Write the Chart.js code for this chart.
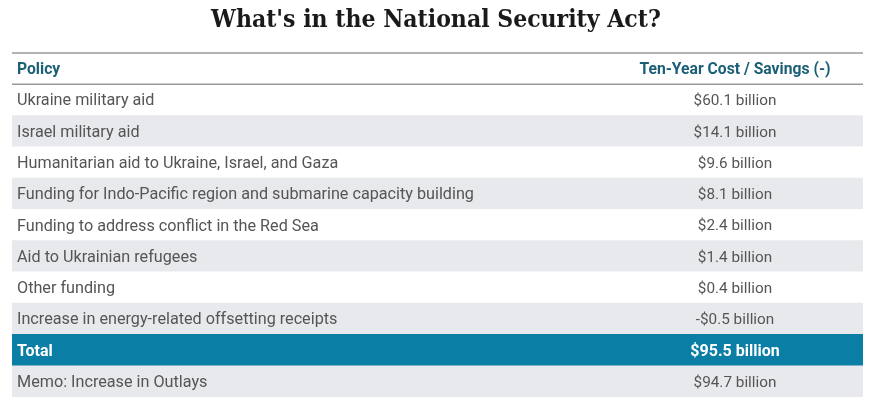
<!DOCTYPE html>
<html>
<head>
<meta charset="utf-8">
<script src="https://cdn.jsdelivr.net/npm/chart.js@4"></script>
<style>
  html, body { margin: 0; padding: 0; background: #fff; }
  #wrap { width: 876px; height: 404px; position: relative; }
</style>
</head>
<body>
<div id="wrap"><canvas id="myChart"></canvas></div>
<script>
const title = "What's in the National Security Act?";
const headers = ['Policy', 'Ten-Year Cost / Savings (-)'];
const policies = [
    'Ukraine military aid',
    'Israel military aid',
    'Humanitarian aid to Ukraine, Israel, and Gaza',
    'Funding for Indo-Pacific region and submarine capacity building',
    'Funding to address conflict in the Red Sea',
    'Aid to Ukrainian refugees',
    'Other funding',
    'Increase in energy-related offsetting receipts',
    'Total',
    'Memo: Increase in Outlays',
];
const costs = [60.1, 14.1, 9.6, 8.1, 2.4, 1.4, 0.4, -0.5, 95.5, 94.7];

const rowLabels = [headers[0]].concat(policies);
const teal = '#0b7ea6';
const stripe = '#e8e9ec';

function money(v){
    return (v < 0 ? '-$' : '$') + Math.abs(v).toFixed(1) + ' billion';
}

// row background: header white, then alternating, total row teal
const rowColors = rowLabels.map((name, i) => {
    if (name === 'Total') return teal;
    if (i === 0) return '#ffffff';
    return i % 2 === 0 ? stripe : '#ffffff';
});

const tablePlugin = {
    id: 'tableText',
    afterDatasetsDraw(chart){
        const ctx = chart.ctx;
        const yScale = chart.scales.y;
        const area = chart.chartArea;
        const valueX = 735;
        ctx.save();
        // title
        ctx.fillStyle = '#1a1a1a';
        ctx.font = 'bold 24.5px "DejaVu Serif Condensed", "DejaVu Serif", serif';
        ctx.textAlign = 'center';
        ctx.textBaseline = 'middle';
        ctx.fillText(title, 436, 21);

        // rules above and below header
        const half = (yScale.getPixelForValue(1) - yScale.getPixelForValue(0)) / 2;
        const headTop = yScale.getPixelForValue(0) - half;
        const headBottom = yScale.getPixelForValue(0) + half;
        ctx.strokeStyle = '#9a9a9a';
        ctx.lineWidth = 1.5;
        ctx.beginPath();
        ctx.moveTo(area.left, headTop);
        ctx.lineTo(area.right, headTop);
        ctx.moveTo(area.left, headBottom);
        ctx.lineTo(area.right, headBottom);
        ctx.stroke();

        rowLabels.forEach((name, i) => {
            const y = yScale.getPixelForValue(i) + 1.5;
            let left = name, right, leftFont, rightFont;
            if (i === 0) {
                right = headers[1];
                ctx.fillStyle = '#1b5f77';
                leftFont = rightFont = 'bold 15.7px Roboto, sans-serif';
            } else if (name === 'Total') {
                right = money(costs[i - 1]);
                ctx.fillStyle = '#ffffff';
                leftFont = rightFont = 'bold 16px Roboto, sans-serif';
            } else {
                right = money(costs[i - 1]);
                ctx.fillStyle = '#555555';
                leftFont = '16.2px Roboto, sans-serif';
                rightFont = '15.3px Roboto, sans-serif';
            }
            ctx.textAlign = 'left';
            ctx.font = leftFont;
            ctx.fillText(left, area.left + 5, y);
            ctx.textAlign = 'center';
            ctx.font = rightFont;
            ctx.fillText(right, valueX, y);
        });
        ctx.restore();
    }
};

const ctx = document.getElementById('myChart').getContext('2d');
new Chart(ctx, {
    type: 'bar',
    data: {
        labels: rowLabels,
        datasets: [{
            data: rowLabels.map(() => 1),
            backgroundColor: rowColors,
            borderWidth: 0,
            barPercentage: 1,
            categoryPercentage: 1,
        }]
    },
    options: {
        indexAxis: 'y',
        responsive: true,
        maintainAspectRatio: false,
        animation: false,
        layout: { padding: { left: 12, right: 13, top: 53, bottom: 7 } },
        scales: {
            x: { display: false, min: 0, max: 1 },
            y: { display: false }
        },
        plugins: {
            legend: { display: false },
            tooltip: { enabled: false },
            title: { display: false }
        }
    },
    plugins: [tablePlugin]
});
</script>
</body>
</html>
